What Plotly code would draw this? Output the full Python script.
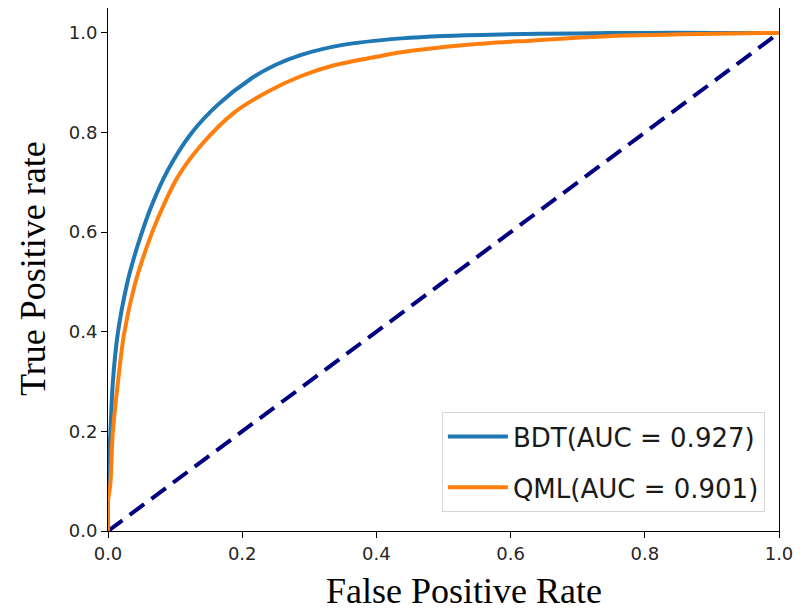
import plotly.graph_objects as go

# ROC data
bdt_fpr = [0.0, 0.0, 0.002, 0.0035, 0.007, 0.0145, 0.029, 0.039, 0.047, 0.064, 0.089, 0.124,
           0.163, 0.213, 0.25, 0.288, 0.35, 0.437, 0.5, 0.586, 0.7, 0.8, 0.9, 1.0]
bdt_tpr = [0.0, 0.12, 0.16, 0.195, 0.295, 0.396, 0.50, 0.55, 0.585, 0.650, 0.724, 0.798,
           0.855, 0.908, 0.936, 0.956, 0.976, 0.989, 0.994, 0.997, 0.999, 1.0, 1.0, 1.0]

qml_fpr = [0.0, 0.0, 0.0035, 0.007, 0.0145, 0.024, 0.039, 0.059, 0.074, 0.104, 0.139, 0.188,
           0.238, 0.287, 0.337, 0.4, 0.437, 0.536, 0.635, 0.735, 0.884, 1.0]
qml_tpr = [0.0, 0.06, 0.094, 0.195, 0.295, 0.396, 0.49, 0.575, 0.627, 0.711, 0.775, 0.840,
           0.882, 0.913, 0.935, 0.952, 0.961, 0.976, 0.985, 0.993, 0.998, 1.0]

diag = [0.0, 1.0]

labels = ["BDT(AUC = 0.927)", "QML(AUC = 0.901)"]
tick_vals = [0.0, 0.2, 0.4, 0.6, 0.8, 1.0]
tick_text = ["0.0", "0.2", "0.4", "0.6", "0.8", "1.0"]

fig = go.Figure()
fig.add_trace(go.Scatter(x=diag, y=diag, mode="lines", showlegend=False,
                         line=dict(color="#000080", width=4, dash="18px,9px")))
fig.add_trace(go.Scatter(x=bdt_fpr, y=bdt_tpr, mode="lines", name=labels[0], legendgroup="a",
                         line=dict(color="#1f77b4", width=4, shape="spline", smoothing=0.9)))
fig.add_trace(go.Scatter(x=qml_fpr, y=qml_tpr, mode="lines", name=labels[1], legendgroup="b",
                         line=dict(color="#ff7f0e", width=4, shape="spline", smoothing=0.9)))

axis_common = dict(
    showline=True, linecolor="black", linewidth=1, mirror=True,
    ticks="outside", ticklen=6, tickcolor="black", tickwidth=1,
    showgrid=False, zeroline=False,
    tickfont=dict(family="DejaVu Sans", size=18, color="#262626"),
    tickvals=tick_vals, ticktext=tick_text,
)

fig.update_layout(
    width=802, height=603,
    margin=dict(l=100, r=31, t=0, b=80),
    plot_bgcolor="white", paper_bgcolor="white",
    xaxis=dict(range=[0, 1], **axis_common),
    yaxis=dict(range=[0, 1.05], **axis_common),
    legend=dict(
        x=0.979, y=0.036, xanchor="right", yanchor="bottom",
        bgcolor="white", bordercolor="#d6d6d6", borderwidth=1,
        font=dict(family="DejaVu Sans", size=26, color="#1a1a1a"),
        tracegroupgap=14, itemwidth=60,
    ),
    annotations=[
        dict(text="False Positive Rate", xref="paper", yref="paper", x=0.5306, y=-0.115,
             xanchor="center", yanchor="middle", showarrow=False,
             font=dict(family="Liberation Serif", size=36, color="black")),
        dict(text="True Positive rate", xref="paper", yref="paper", x=-0.1118, y=0.503,
             xanchor="center", yanchor="middle", showarrow=False, textangle=-90,
             font=dict(family="Liberation Serif", size=36, color="black")),
    ],
)

fig.write_html("out.html")
